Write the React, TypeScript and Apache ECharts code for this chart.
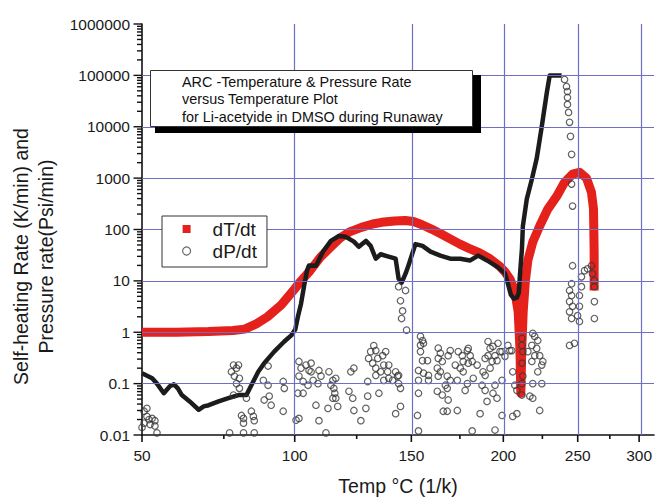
import React, { useEffect, useRef } from 'react';
import * as echarts from 'echarts';

// x ticks (°C) on a reciprocal-temperature axis
const xTickLabels = [50, 100, 150, 200, 250, 300];
const xMinorTicks = [75, 125, 175, 225, 275];
const xMinTemp = 50;
const xMaxTemp = 313.6;
// y decades
const yMinExp = -2;
const yMaxExp = 6;
const gridTemps = [100, 150, 200, 250, 300];
const gridRates = [0.1, 1, 10, 100, 1000, 10000, 100000];

// dT/dt (K/min) vs temperature (°C)
const dTdt: [number, number][] = [
  [50, 1.0], [60, 1.0], [70, 1.03], [78, 1.08], [82, 1.15], [86, 1.45], [90, 2.0], [95, 3.4],
  [100, 7], [102.4, 10], [106, 16], [110, 29], [114, 45], [118, 68], [122, 90], [127, 110],
  [132, 128], [136, 138], [142, 147], [147, 150], [151, 143], [155, 125], [160, 102], [165, 82],
  [170, 65], [175, 52], [180, 43], [186, 35], [192, 27], [198, 19], [201, 15], [204, 11],
  [207, 6.5], [209.2, 2.5], [210.3, 0.5], [210.9, 0.065], [211.5, 0.5], [212.4, 2.5],
  [213.8, 10], [215.4, 25], [218.6, 57], [223.2, 117], [228.7, 250], [234.8, 440],
  [240.4, 830], [246.2, 1200], [251.3, 1300], [256.6, 1000], [260.4, 530], [262, 250],
  [262.5, 37], [262.5, 6.5],
];

// dP/dt main trace (psi/min)
const dPdtCurve: [number, number][] = [
  [50, 0.159], [52.9, 0.127], [54.3, 0.1], [56.3, 0.065], [58.1, 0.089], [59.3, 0.097],
  [60.5, 0.081], [61.7, 0.06], [64.1, 0.045], [66.9, 0.031], [68.5, 0.036], [70.1, 0.038],
  [73.3, 0.045], [76.5, 0.052], [79.9, 0.06], [82.6, 0.06], [84.3, 0.093], [86.7, 0.17],
  [88.8, 0.25], [92.4, 0.42], [96.1, 0.66], [98.7, 0.87], [100.2, 1.13], [101.2, 2.0],
  [102.4, 3.6], [103.6, 8.1], [104.7, 15.8], [105.5, 20], [108.2, 19.7], [111.0, 37],
  [114.2, 60], [117.5, 75], [120.4, 72], [123.8, 58], [125.9, 46], [129.0, 60], [131.1, 48],
  [133.4, 27], [135.6, 33], [138.8, 30], [142.5, 27], [143.9, 11], [145.3, 9.2], [147.2, 13.8],
  [148.6, 20], [152.0, 52], [155.5, 48], [159.5, 37], [164.6, 31], [169.8, 27], [175.2, 27],
  [180.7, 25], [185.2, 31], [190.3, 25], [196.2, 19], [201.0, 14], [202.8, 8.8], [204.6, 5.4],
  [206.5, 4.5], [208.4, 4.7], [209.6, 5.9], [210.3, 12.5], [211.6, 42], [212.2, 117],
  [214.7, 390], [218.0, 950], [221.2, 2400], [224.6, 10200], [228.0, 46000], [230.0, 100000],
  [234.1, 100000], [238.3, 100000],
];

// dP/dt scattered readings
const dPdtScatter: [number, number][] = [
  [50.6, 0.029], [51.4, 0.023], [52.9, 0.021], [53.7, 0.019], [50.6, 0.017], [52.3, 0.016],
  [53.7, 0.015], [50.0, 0.014], [52.0, 0.02], [54.3, 0.011], [51.4, 0.033],
  [78.2, 0.23], [79.2, 0.2], [77.5, 0.17], [78.5, 0.14], [79.2, 0.1], [80.2, 0.081], [78.2, 0.06],
  [80.9, 0.024], [81.6, 0.021], [81.6, 0.017], [76.9, 0.011], [81.6, 0.011], [79.9, 0.23],
  [80.2, 0.127], [84.3, 0.029], [85.0, 0.023], [85.3, 0.019], [85.3, 0.011], [82.6, 0.052],
  [88.5, 0.116], [90.2, 0.093], [88.8, 0.048], [90.6, 0.057], [91.3, 0.038], [95.7, 0.11],
  [96.1, 0.081], [95.7, 0.029], [90.2, 0.22],
  [101.6, 0.27], [102.4, 0.2], [104.3, 0.23], [105.5, 0.18], [106.3, 0.25], [101.6, 0.14],
  [103.2, 0.11], [105.1, 0.093], [107.1, 0.116], [101.2, 0.065], [103.2, 0.065], [108.2, 0.038],
  [101.6, 0.021], [100.5, 0.0195], [109.4, 0.019], [109.4, 0.18], [110.2, 0.14], [113.0, 0.033],
  [113.4, 0.17], [115.0, 0.116], [115.4, 0.081], [116.2, 0.052], [117.0, 0.036], [112.2, 0.011],
  [121.7, 0.071], [123.3, 0.052], [123.8, 0.03], [122.5, 0.17], [126.8, 0.019], [129.0, 0.033],
  [129.8, 0.057],
  [106.3, 0.17], [109.0, 0.1], [114.2, 0.093], [115.8, 0.065], [115.0, 0.052], [116.2, 0.127],
  [123.8, 0.2],
  [130.2, 0.31], [131.1, 0.42], [132.5, 0.55], [133.4, 0.44], [132.0, 0.25], [134.3, 0.31],
  [136.5, 0.35], [137.9, 0.42], [137.0, 0.23], [135.6, 0.17], [138.8, 0.17], [139.3, 0.127],
  [137.0, 0.116], [133.4, 0.2], [134.8, 0.065], [142.5, 0.17], [143.4, 0.14], [143.9, 0.1],
  [144.8, 0.081], [144.8, 0.036], [142.5, 0.026], [129.8, 0.11],
  [133.4, 0.145], [139.3, 0.23], [141.1, 0.116], [143.9, 0.145],
  [143.9, 7.7], [144.8, 4.1], [147.2, 6.5], [145.3, 1.85], [147.7, 1.1], [145.8, 2.6],
  [154.5, 0.83], [155.5, 0.69], [154.5, 0.56], [156.0, 0.61], [154.5, 0.42], [155.5, 0.28],
  [158.0, 0.28], [153.5, 0.18], [156.0, 0.16], [158.5, 0.145], [153.5, 0.116], [153.5, 0.065],
  [153.0, 0.024], [153.5, 0.012], [163.5, 0.49], [164.6, 0.39], [163.5, 0.31], [165.6, 0.27],
  [163.0, 0.2], [164.6, 0.17], [168.7, 0.35], [169.8, 0.44], [168.2, 0.14], [169.8, 0.116],
  [163.0, 0.071], [165.6, 0.06], [168.2, 0.081], [168.7, 0.048], [166.1, 0.029], [168.2, 0.029],
  [173.6, 0.03], [174.1, 0.42], [176.3, 0.35], [175.2, 0.2], [176.8, 0.17], [173.6, 0.116],
  [177.9, 0.074], [179.6, 0.485], [180.7, 0.35], [179.6, 0.25], [181.8, 0.27], [182.4, 0.127],
  [179.1, 0.1], [181.8, 0.012], [187.4, 0.093], [188.0, 0.17], [189.2, 0.074], [190.3, 0.045],
  [186.3, 0.026], [190.9, 0.66], [192.1, 0.485], [193.8, 0.53], [195.0, 0.35], [193.3, 0.27],
  [196.2, 0.28], [196.8, 0.61], [198.0, 0.42], [195.0, 0.0125], [193.8, 0.065], [196.2, 0.052],
  [199.2, 0.024], [199.2, 0.116], [189.2, 0.31], [190.9, 0.35],
  [158.5, 0.116], [163.5, 0.14], [167.2, 0.093], [172.5, 0.23], [179.1, 0.44], [176.8, 0.27],
  [184.6, 0.23], [189.2, 0.145], [192.1, 0.2], [195.0, 0.093], [199.2, 0.42], [201.0, 0.34],
  [204.0, 0.44],
  [202.8, 0.555], [205.2, 0.44], [205.8, 0.17], [207.1, 0.093], [208.4, 0.074], [205.8, 0.023],
  [208.4, 0.026], [211.6, 0.76], [211.6, 0.555], [212.2, 0.42], [211.6, 0.25], [212.2, 0.14],
  [211.6, 0.1], [211.6, 0.06],
  [218.6, 0.95], [219.9, 0.83], [221.9, 0.69], [218.0, 0.555], [221.2, 0.485], [223.2, 0.35],
  [218.0, 0.27], [224.6, 0.23], [218.6, 0.1], [224.6, 0.1], [216.7, 0.057], [218.6, 0.052],
  [223.2, 0.03], [215.4, 0.42], [219.9, 0.35], [221.9, 0.17], [225.3, 0.27],
  [240.4, 83000], [241.8, 60700], [242.5, 48500], [242.5, 37100], [242.5, 27200], [243.3, 19000],
  [244.0, 12200], [244.7, 6500], [245.5, 2900], [245.5, 766], [246.2, 286],
  [245.5, 8.8], [244.0, 6.5], [245.5, 5.2], [244.0, 3.95], [246.2, 3.2], [244.0, 2.5],
  [245.5, 1.85], [249.9, 2.1], [251.3, 3.2], [251.3, 5.2], [252.8, 7.7], [252.8, 12],
  [255.1, 15.8], [257.4, 17.2], [260.4, 19.7], [261.2, 13.8], [262.7, 10.1], [262.7, 7.7],
  [262.7, 3.95], [262.7, 1.85], [246.2, 19.7], [244.0, 0.555], [247.6, 0.61], [251.3, 1.62],
];

const titleLines = [
  'ARC -Temperature & Pressure Rate',
  'versus Temperature Plot',
  'for Li-acetyide in DMSO during Runaway',
];

const RED = '#e4211b';
const GRIDBLUE = '#6e6ec6';
const INK = '#1a1a1a';
const FONT = '"Liberation Sans", Arial, sans-serif';

// reciprocal temperature transform: u = -1000 / T(K)
const toU = (t: number) => -1000 / (t + 273.15);
const fromU = (u: number) => -1000 / u - 273.15;
const toPoint = (p: [number, number]) => [toU(p[0]), Math.log10(p[1])];

export default function App() {
  const ref = useRef<HTMLDivElement>(null);
  useEffect(() => {
    if (!ref.current) return;
    const chart = echarts.init(ref.current, undefined, { renderer: 'svg' });
    const xMin = toU(xMinTemp);
    const xMax = toU(xMaxTemp);

    // tick marks: [x, y, length]
    const xTickData = [
      ...xTickLabels.map((t) => [toU(t), yMinExp, 7]),
      ...xMinorTicks.map((t) => [toU(t), yMinExp, 4]),
    ];
    const yTickData: number[][] = [];
    for (let e = yMinExp; e <= yMaxExp; e++) {
      yTickData.push([xMin, e, 8.5]);
      if (e < yMaxExp) for (let k = 2; k <= 9; k++) yTickData.push([xMin, e + Math.log10(k), 5]);
    }

    const option: any = {
      animation: false,
      backgroundColor: '#ffffff',
      textStyle: { fontFamily: FONT },
      grid: { left: 140, right: 0, top: 24, bottom: 64 },
      xAxis: {
        type: 'value', min: xMin, max: xMax, position: 'bottom',
        axisLine: { show: true, onZero: false, lineStyle: { color: '#111', width: 1.6 } },
        axisTick: { show: false },
        axisLabel: {
          show: true, customValues: xTickLabels.map(toU), margin: 12, fontSize: 15.5, color: INK,
          formatter: (v: number) => String(Math.round(fromU(v))),
        },
        splitLine: { show: false },
        name: 'Temp °C (1/k)', nameLocation: 'middle', nameGap: 41,
        nameTextStyle: { fontSize: 19.5, color: INK },
      },
      yAxis: {
        type: 'value', min: yMinExp, max: yMaxExp, interval: 1, position: 'left',
        axisLine: { show: true, onZero: false, lineStyle: { color: '#111', width: 1.6 } },
        axisTick: { show: false },
        axisLabel: {
          margin: 12, fontSize: 15.5, color: INK,
          formatter: (v: number) => {
            const p = Math.round(v);
            return p >= 0 ? String(Math.pow(10, p)) : Math.pow(10, p).toFixed(-p);
          },
        },
        splitLine: { show: false },
        name: 'Self-heating Rate (K/min) and\nPressure rate(Psi/min)',
        nameLocation: 'middle', nameGap: 84, nameRotate: 90,
        nameTextStyle: { fontSize: 19.5, color: INK, lineHeight: 25, padding: [0, 54, 0, 0] },
      },
      legend: {
        orient: 'vertical', left: 162, top: 216,
        padding: [3, 10, 6, 20],
        itemWidth: 8, itemHeight: 8, itemGap: 2,
        backgroundColor: '#fff', borderColor: '#333', borderWidth: 1,
        selectedMode: false,
        textStyle: { fontSize: 19, color: INK, lineHeight: 20, padding: [0, 0, 0, 17] },
        data: [
          { name: 'dT/dt', icon: 'rect', itemStyle: { color: RED } },
          { name: 'dP/dt', icon: 'circle', itemStyle: { color: '#fff', borderColor: '#444', borderWidth: 1.2 } },
        ],
        z: 20,
      },
      graphic: [
        { type: 'rect', shape: { x: 155, y: 75, width: 326, height: 58 }, style: { fill: '#000' }, z: 30 },
        { type: 'rect', shape: { x: 150.5, y: 70.5, width: 322, height: 56 }, style: { fill: '#fff', stroke: '#333', lineWidth: 1 }, z: 31 },
        {
          type: 'text', x: 182, y: 73, z: 32,
          style: { text: titleLines.join('\n'), font: `14.4px ${FONT}`, lineHeight: 17.5, fill: '#111' },
        },
      ],
      series: [
        {
          name: 'grid', type: 'line', data: [], z: 1, silent: true,
          markLine: {
            silent: true, symbol: ['none', 'none'], label: { show: false },
            lineStyle: { color: GRIDBLUE, width: 1.2, type: 'solid' },
            data: [
              ...gridTemps.map((t) => ({ xAxis: toU(t) })),
              ...gridRates.map((r) => ({ yAxis: Math.log10(r) })),
            ],
          },
        },
        {
          name: 'xticks', type: 'custom', clip: false, silent: true, z: 5, data: xTickData,
          renderItem: (_p: any, api: any) => {
            const c = api.coord([api.value(0), api.value(1)]);
            const len = api.value(2);
            return { type: 'line', shape: { x1: c[0], y1: c[1], x2: c[0], y2: c[1] + len }, style: { stroke: '#111', lineWidth: 1.6 } };
          },
        },
        {
          name: 'yticks', type: 'custom', clip: false, silent: true, z: 5, data: yTickData,
          renderItem: (_p: any, api: any) => {
            const c = api.coord([api.value(0), api.value(1)]);
            const len = api.value(2);
            return { type: 'line', shape: { x1: c[0] - len, y1: c[1], x2: c[0], y2: c[1] }, style: { stroke: '#111', lineWidth: 1.4 } };
          },
        },
        {
          name: 'dT/dt', type: 'line', z: 2, data: dTdt.map(toPoint),
          showSymbol: false, symbol: 'none',
          lineStyle: { color: RED, width: 9, join: 'round' },
          itemStyle: { color: RED },
        },
        {
          name: 'dP/dt', type: 'scatter', z: 4, data: dPdtScatter.map(toPoint),
          symbol: 'circle', symbolSize: 6.5,
          itemStyle: { color: 'rgba(255,255,255,0)', borderColor: '#3a3a3a', borderWidth: 1.2 },
        },
        {
          name: 'dP/dt', type: 'line', z: 3, data: dPdtCurve.map(toPoint),
          showSymbol: false, symbol: 'none',
          lineStyle: { color: '#1c1c1c', width: 4.5, join: 'round' },
        },
      ],
    };
    chart.setOption(option);
    return () => chart.dispose();
  }, []);
  return <div ref={ref} style={{ width: 655, height: 501, position: 'absolute', left: 0, top: 0 }} />;
}
